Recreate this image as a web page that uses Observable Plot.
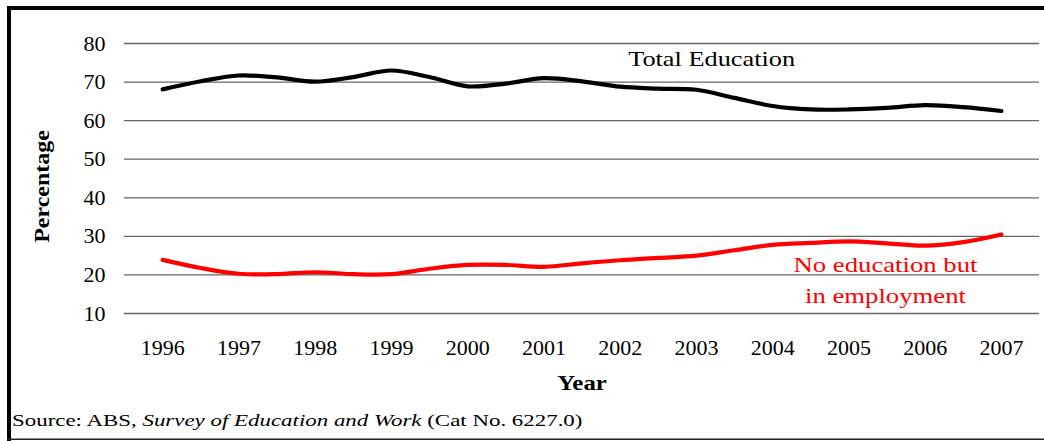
<!DOCTYPE html>
<html>
<head>
<meta charset="utf-8">
<script src="https://cdn.jsdelivr.net/npm/d3@7"></script>
<script src="https://cdn.jsdelivr.net/npm/@observablehq/plot@0.6"></script>
<style>
  html, body { margin: 0; padding: 0; background: #fff; overflow: hidden; }
</style>
</head>
<body>
<div id="chart"></div>
<script>
// Half-yearly observations, 1996 to 2007
const periods = [1996, 1996.5, 1997, 1997.5, 1998, 1998.5, 1999, 1999.5, 2000, 2000.5,
  2001, 2001.5, 2002, 2002.5, 2003, 2003.5, 2004, 2004.5, 2005, 2005.5, 2006, 2006.5, 2007];

// Percentage in total education
const totalEducation = [68.1, 70.2, 71.7, 71.2, 70.1, 71.3, 73.0, 71.3, 68.9, 69.6,
  71.0, 70.2, 68.8, 68.3, 68.0, 65.9, 63.8, 62.9, 62.9, 63.3, 64.0, 63.5, 62.5];

// Percentage with no education but in employment
const noEducationEmployed = [23.9, 21.8, 20.3, 20.2, 20.7, 20.2, 20.2, 21.6, 22.6, 22.6,
  22.1, 23.0, 23.8, 24.4, 25.0, 26.4, 27.8, 28.3, 28.7, 28.2, 27.6, 28.5, 30.5];

const yearTicks = [1996, 1997, 1998, 1999, 2000, 2001, 2002, 2003, 2004, 2005, 2006, 2007];
const percentTicks = [10, 20, 30, 40, 50, 60, 70, 80];

const seriesNames = ["Total Education", "No education but\nin employment"];
const seriesColors = ["#000000", "#ff0000"];

const rows = periods.map((p, i) => ({
  period: p,
  total: totalEducation[i],
  noEdu: noEducationEmployed[i]
}));

// Inline series labels, placed beside their lines
const labelRows = [
  { x: 2003.2, y: 76.6, text: seriesNames[0], color: seriesColors[0] },
  { x: 2005.48, y: 19.27, text: seriesNames[1], color: seriesColors[1] }
];

const serif = "Liberation Serif";

const plot = Plot.plot({
  width: 1044,
  height: 441,
  marginLeft: 124,
  marginRight: 5,
  marginTop: 43,
  marginBottom: 128,
  style: { fontFamily: serif, fontSize: "22px", background: "#fff", color: "#000" },
  x: { domain: [1995.5, 2007.5] },
  y: { domain: [10, 80] },
  marks: [
    Plot.gridY(percentTicks, { stroke: "#666", strokeOpacity: 1, strokeWidth: 1.3 }),
    Plot.axisY(percentTicks, { tickSize: 0, tickPadding: 19, label: null, fontSize: 22, fontFamily: serif }),
    Plot.axisX(yearTicks, { tickSize: 0, tickPadding: 26, label: null, fontSize: 22, fontFamily: serif, tickFormat: d => String(d) }),
    Plot.line(rows, { x: "period", y: "total", stroke: seriesColors[0], strokeWidth: 4.2, curve: "catmull-rom" }),
    Plot.line(rows, { x: "period", y: "noEdu", stroke: seriesColors[1], strokeWidth: 4.2, curve: "catmull-rom" }),
    Plot.text(labelRows, {
      x: "x", y: "y", text: "text", fill: "color", fontFamily: serif,
      fontSize: 22, lineHeight: 1.39, textAnchor: "middle", lineAnchor: "middle"
    }),
    Plot.text(["Percentage"], {
      frameAnchor: "left", dx: -83, dy: 8, rotate: -90, fontFamily: serif,
      fontSize: 22, fontWeight: "bold", textAnchor: "middle"
    }),
    Plot.text(["Year"], {
      frameAnchor: "bottom", dy: 76, fontFamily: serif, fontSize: 22, fontWeight: "bold", textAnchor: "middle"
    })
  ]
});

document.getElementById("chart").appendChild(plot);

const svg = d3.select(plot);

// Widen a text element horizontally (along its own baseline) to a given width
function widen(el, targetWidth) {
  const w = el.getBBox().width;
  if (!w) return;
  const s = targetWidth / w;
  const t = el.getAttribute("transform") || "";
  el.setAttribute("transform", `${t} scale(${s},1)`);
}

const textWidths = {
  "Total Education": 167,
  "No education but": 184,
  "Percentage": 113,
  "Year": 50
};
svg.selectAll("text").each(function () {
  const t = this.textContent;
  for (const key of Object.keys(textWidths)) {
    if (t.startsWith(key)) widen(this, textWidths[key]);
  }
});

// Source note along the bottom
const note = svg.append("text")
  .attr("transform", "translate(12,426)")
  .attr("text-anchor", "start")
  .attr("font-family", serif)
  .attr("font-size", 16)
  .attr("fill", "#000");
note.append("tspan").text("Source: ABS, ");
note.append("tspan").attr("font-style", "italic").text("Survey of Education and Work");
note.append("tspan").text(" (Cat No. 6227.0)");
widen(note.node(), 571);

// Outer border: heavy on the left and top, thin along the bottom
svg.append("rect").attr("x", 7).attr("y", 6).attr("width", 1044 - 7).attr("height", 4).attr("fill", "#000");
svg.append("rect").attr("x", 7).attr("y", 6).attr("width", 4).attr("height", 441 - 6).attr("fill", "#000");
svg.append("rect").attr("x", 7).attr("y", 438.5).attr("width", 1044 - 7).attr("height", 1.5).attr("fill", "#222");
</script>
</body>
</html>
